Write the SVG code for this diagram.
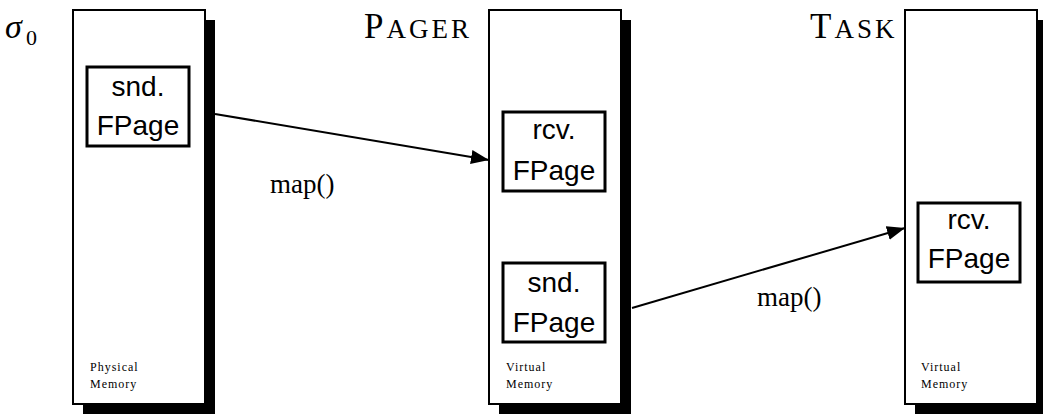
<svg xmlns="http://www.w3.org/2000/svg" width="1043" height="414" viewBox="0 0 1043 414">
<style>
.shadow{fill:#000}
.mem{fill:#fff;stroke:#000;stroke-width:2}
.fp{fill:#fff;stroke:#000;stroke-width:3}
.fpt{font-family:"Liberation Sans",sans-serif;font-size:28px;text-anchor:middle;fill:#000}
.small{font-family:"Liberation Serif",serif;font-size:12px;letter-spacing:1px;fill:#000}
.title{font-family:"Liberation Serif",serif;font-size:35px;fill:#000;letter-spacing:3px}
.lbl{font-family:"Liberation Serif",serif;font-size:27px;fill:#000}
.conn{stroke:#000;stroke-width:2;fill:none}
</style>
<defs>
<marker id="arr" markerWidth="20" markerHeight="16" refX="18" refY="7" orient="auto" markerUnits="userSpaceOnUse">
<path d="M0,0 L18,7 L0,14 Z" fill="#000"/>
</marker>
</defs>
<text x="5" y="38" font-family="Liberation Serif,serif" font-style="italic" font-size="34" fill="#000">σ</text>
<text x="26" y="45" font-family="Liberation Serif,serif" font-size="22" fill="#000">0</text>
<text class="title" x="364" y="38">P<tspan font-size="27">AGER</tspan></text>
<text class="title" x="810" y="38">T<tspan font-size="27">ASK</tspan></text>
<g id="sigma0">
<rect class="shadow" x="83" y="20" width="132" height="394"/>
<rect class="mem" x="73" y="10" width="132" height="394"/>
<text class="small" x="90" y="371">Physical</text>
<text class="small" x="90" y="388">Memory</text>
</g>
<g id="sigma0-snd">
<rect class="fp" x="87" y="67" width="102" height="79"/>
<text class="fpt" x="138" y="96">snd.</text>
<text class="fpt" x="138" y="135">FPage</text>
</g>
<g id="pager">
<rect class="shadow" x="499" y="20" width="132" height="394"/>
<rect class="mem" x="489" y="10" width="132" height="394"/>
<text class="small" x="506" y="371">Virtual</text>
<text class="small" x="506" y="388">Memory</text>
</g>
<g id="pager-rcv">
<rect class="fp" x="503" y="112" width="102" height="79"/>
<text class="fpt" x="554" y="139">rcv.</text>
<text class="fpt" x="554" y="180">FPage</text>
</g>
<g id="pager-snd">
<rect class="fp" x="503" y="263" width="102" height="79"/>
<text class="fpt" x="554" y="292">snd.</text>
<text class="fpt" x="554" y="332">FPage</text>
</g>
<g id="task">
<rect class="shadow" x="915" y="20" width="132" height="394"/>
<rect class="mem" x="905" y="10" width="132" height="394"/>
<text class="small" x="921" y="371">Virtual</text>
<text class="small" x="921" y="388">Memory</text>
</g>
<g id="task-rcv">
<rect class="fp" x="918" y="203" width="102" height="79"/>
<text class="fpt" x="969" y="229">rcv.</text>
<text class="fpt" x="969" y="268">FPage</text>
</g>
<g id="connectors">
<line class="conn" x1="215" y1="114" x2="489" y2="160" marker-end="url(#arr)"/>
<line class="conn" x1="632" y1="308" x2="905" y2="228" marker-end="url(#arr)"/>
<text class="lbl" x="270" y="193">map()</text>
<text class="lbl" x="757" y="306">map()</text>
</g>
</svg>
